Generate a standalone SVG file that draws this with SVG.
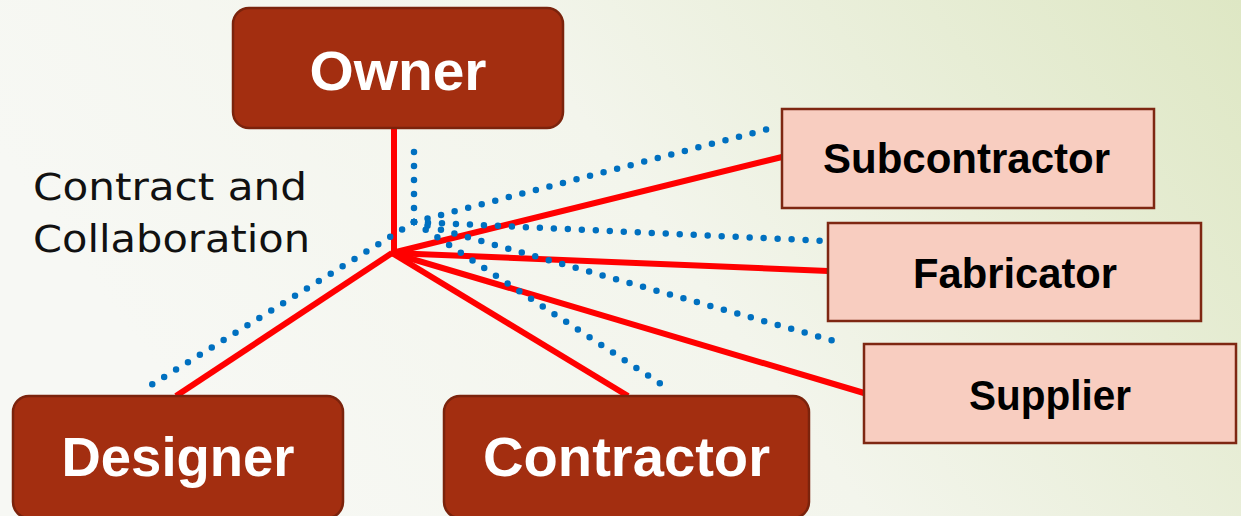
<svg xmlns="http://www.w3.org/2000/svg" width="1241" height="516" viewBox="0 0 1241 516">
  <defs>
    <linearGradient id="bg" x1="0" y1="0.3" x2="1" y2="0">
      <stop offset="0" stop-color="#F7F8F4"/>
      <stop offset="0.45" stop-color="#F3F5EC"/>
      <stop offset="1" stop-color="#DEE7C4"/>
    </linearGradient>
    <style>
      .main rect { fill: #A32E10; stroke: #7B230C; stroke-width: 2.5; }
      .main text { fill: #FFFFFF; font-family: "Liberation Sans", Arial, sans-serif; font-weight: bold; font-size: 55px; text-anchor: middle; }
      .party rect { fill: #F8CDC0; stroke: #7E2712; stroke-width: 2.5; }
      .party text { fill: #000000; font-family: "Liberation Sans", Arial, sans-serif; font-weight: bold; font-size: 42px; text-anchor: middle; }
      .contract line { stroke: #FF0000; stroke-width: 6; stroke-linecap: butt; }
      .collab line { stroke: #0070C0; stroke-width: 6.5; stroke-linecap: round; stroke-dasharray: 0 14; fill: none; }
      .caption { fill: #111111; font-family: "DejaVu Sans", "Liberation Sans", sans-serif; font-weight: normal; font-size: 37px; }
    </style>
  </defs>

  <rect x="0" y="0" width="1241" height="516" fill="url(#bg)"/>

  <g id="connectors">
    <!-- contract links (solid red) -->
    <g class="contract">
      <line x1="394" y1="128" x2="394" y2="253"/>
      <line x1="392" y1="253" x2="176" y2="396"/>
      <line x1="392" y1="253" x2="628" y2="396"/>
      <line x1="392" y1="253" x2="782" y2="157"/>
      <line x1="392" y1="253" x2="828" y2="271"/>
      <line x1="392" y1="253" x2="864" y2="393"/>
    </g>
    <!-- collaboration links (dotted blue) -->
    <g class="collab">
      <line x1="414" y1="222" x2="414" y2="144"/>
      <line x1="414" y1="222" x2="148" y2="387"/>
      <line x1="414" y1="222" x2="670" y2="390"/>
      <line x1="414" y1="222" x2="776" y2="127"/>
      <line x1="414" y1="222" x2="827" y2="241"/>
      <line x1="414" y1="222" x2="845" y2="344"/>
    </g>
  </g>

  <text class="caption" x="33" y="200" textLength="274" lengthAdjust="spacingAndGlyphs">Contract and</text>
  <text class="caption" x="33" y="252" textLength="277" lengthAdjust="spacingAndGlyphs">Collaboration</text>

  <g id="owner" class="main">
    <rect x="233" y="8" width="330" height="120" rx="16"/>
    <text x="398" y="90" textLength="177" lengthAdjust="spacingAndGlyphs">Owner</text>
  </g>

  <g id="designer" class="main">
    <rect x="13" y="396" width="330" height="122" rx="16"/>
    <text x="178" y="476" textLength="233" lengthAdjust="spacingAndGlyphs">Designer</text>
  </g>

  <g id="contractor" class="main">
    <rect x="444" y="396" width="365" height="122" rx="16"/>
    <text x="626.5" y="476" textLength="287" lengthAdjust="spacingAndGlyphs">Contractor</text>
  </g>

  <g id="subcontractor" class="party">
    <rect x="782" y="109" width="372" height="99"/>
    <text x="966.5" y="173" textLength="287" lengthAdjust="spacingAndGlyphs">Subcontractor</text>
  </g>

  <g id="fabricator" class="party">
    <rect x="828" y="223" width="373" height="98"/>
    <text x="1015" y="288" textLength="204" lengthAdjust="spacingAndGlyphs">Fabricator</text>
  </g>

  <g id="supplier" class="party">
    <rect x="864" y="344" width="372" height="99"/>
    <text x="1050" y="410" textLength="162" lengthAdjust="spacingAndGlyphs">Supplier</text>
  </g>
</svg>
